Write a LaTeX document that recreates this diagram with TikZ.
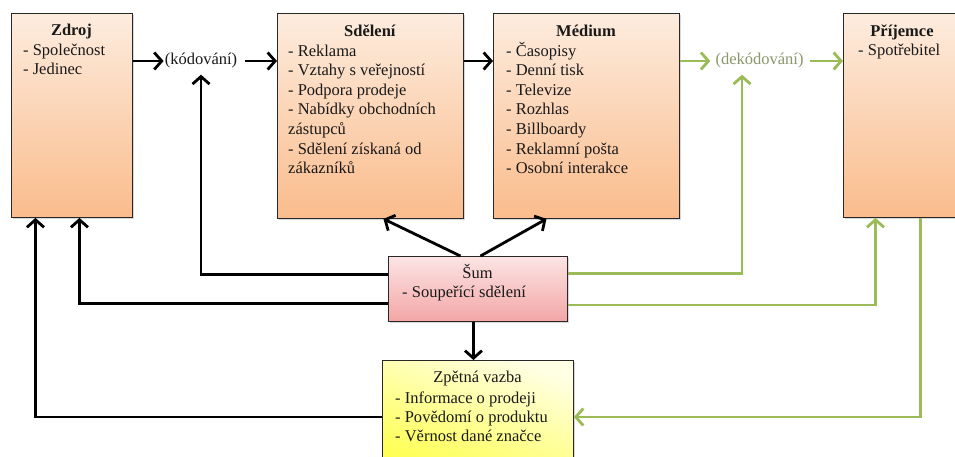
\documentclass[tikz,border=0pt]{standalone}
\usepackage{fontspec}
\setmainfont{Liberation Serif}
\usetikzlibrary{arrows.meta,shadows,calc}
\definecolor{orTop}{RGB}{253,236,222}
\definecolor{orBot}{RGB}{250,188,140}
\definecolor{pkTop}{RGB}{252,228,228}
\definecolor{pkBot}{RGB}{243,166,166}
\definecolor{ylTop}{RGB}{255,255,228}
\definecolor{ylBot}{RGB}{255,255,80}
\definecolor{grn}{RGB}{155,187,89}
\definecolor{grnTxt}{RGB}{138,150,108}
\definecolor{bord}{RGB}{40,40,40}
\definecolor{ink}{RGB}{25,25,25}
\newcommand{\lst}[1]{\begin{tabular}[t]{@{}l@{}}#1\end{tabular}}
\begin{document}
\begin{tikzpicture}[x=1pt,y=-1pt,
  boxbase/.style={draw=bord, line width=0.9pt, anchor=north west, inner sep=0pt,
    drop shadow={shadow xshift=1.5pt,shadow yshift=-1.5pt,opacity=0.3}},
  obox/.style={boxbase, top color=orTop, bottom color=orBot},
  pbox/.style={boxbase, top color=pkTop, bottom color=pkBot},
  ybox/.style={boxbase, top color=ylTop, bottom color=ylBot, shading angle=-20},
  txt/.style={inner sep=0pt, font=\fontsize{16.5}{19.6}\selectfont, text=ink},
  ttl/.style={txt, anchor=base},
  items/.style={txt, anchor=base west},
  arr/.style={draw=black, line width=2.8pt, -{Straight Barb[length=7.5pt,width=17pt]}},
  garr/.style={arr, draw=grn},
  ]
\useasboundingbox (0,0) rectangle (955,456);
\clip (0,0) rectangle (955,456);
\fill[white] (0,0) rectangle (955,456);

% boxes
\node[obox, minimum width=121pt, minimum height=204pt] (zdroj) at (11,13) {};
\node[ttl] (zdrojH) at (71.5,35) {\textbf{Zdroj}};
\node[items] (zdrojL) at (23,55) {\lst{- Společnost\\- Jedinec}};

\node[obox, minimum width=186pt, minimum height=205pt] (sdel) at (277,13) {};
\node[ttl] (sdelH) at (370,36) {\textbf{Sdělení}};
\node[items] (sdelL) at (288,56) {\lst{- Reklama\\- Vztahy s veřejností\\- Podpora prodeje\\- Nabídky obchodních\\zástupců\\- Sdělení získaná od\\zákazníků}};

\node[obox, minimum width=186pt, minimum height=205pt] (med) at (493,13) {};
\node[ttl] (medH) at (586,36) {\textbf{Médium}};
\node[items] (medL) at (506,56) {\lst{- Časopisy\\- Denní tisk\\- Televize\\- Rozhlas\\- Billboardy\\- Reklamní pošta\\- Osobní interakce}};

\node[obox, minimum width=118pt, minimum height=204pt] (prij) at (843,13) {};
\node[ttl] (prijH) at (902,36) {\textbf{Příjemce}};
\node[items] (prijL) at (858,55) {\lst{- Spotřebitel}};

\node[pbox, minimum width=179pt, minimum height=65pt] (sum) at (388,256) {};
\node[ttl] (sumH) at (477.5,278) {Šum};
\node[items] (sumL) at (402,297) {\lst{- Soupeřící sdělení}};

\node[ybox, minimum width=191pt, minimum height=115pt] (zpet) at (382,360) {};
\node[ttl] (zpetH) at (477.5,382) {Zpětná vazba};
\node[items, font=\fontsize{16.5}{19.2}\selectfont] (zpetL) at (395,403) {\lst{- Informace o prodeji\\- Povědomí o produktu\\- Věrnost dané značce}};

\node[txt, inner xsep=1pt, inner ysep=6pt] (kod) at (201,61) {(kódování)};
\node[txt, inner xsep=1pt, inner ysep=6pt, text=grnTxt] (dek) at (759.5,61) {(dekódování)};

% connectors
\draw[arr] (zdroj.east |- kod.west) -- (kod.west);
\draw[arr] ([xshift=7pt]kod.east) -- (sdel.west |- kod.east);
\draw[arr] (sdel.east |- kod.east) -- (med.west |- kod.east);
\draw[garr] (med.east |- dek.west) -- ([xshift=-4pt]dek.west);
\draw[garr] ([xshift=5pt]dek.east) -- (prij.west |- dek.east);
\draw[arr] ([xshift=-17.5pt]sum.north) -- ([xshift=13pt]sdel.south);
\draw[arr] ([xshift=2.5pt]sum.north) -- ([xshift=-40pt]med.south);
\draw[arr] ([yshift=14.5pt]sum.west) -| (kod.south);
\draw[arr] ([yshift=-14.5pt]sum.west) -| ([xshift=7.5pt]zdroj.south);
\draw[arr] ([yshift=-57pt]zpet.north west) -| ([xshift=-36.5pt]zdroj.south);
\draw[arr] ([xshift=-4.5pt]sum.south) -- ([xshift=-4.5pt]zpet.north);
\draw[garr] ([yshift=15.5pt]sum.east) -| ([xshift=-17.5pt]dek.south);
\draw[garr] ([yshift=-16pt]sum.east) -| ([xshift=-27pt]prij.south);
\draw[garr] ([xshift=18pt]prij.south) |- ([yshift=-57pt]zpet.north east);
\end{tikzpicture}
\end{document}
